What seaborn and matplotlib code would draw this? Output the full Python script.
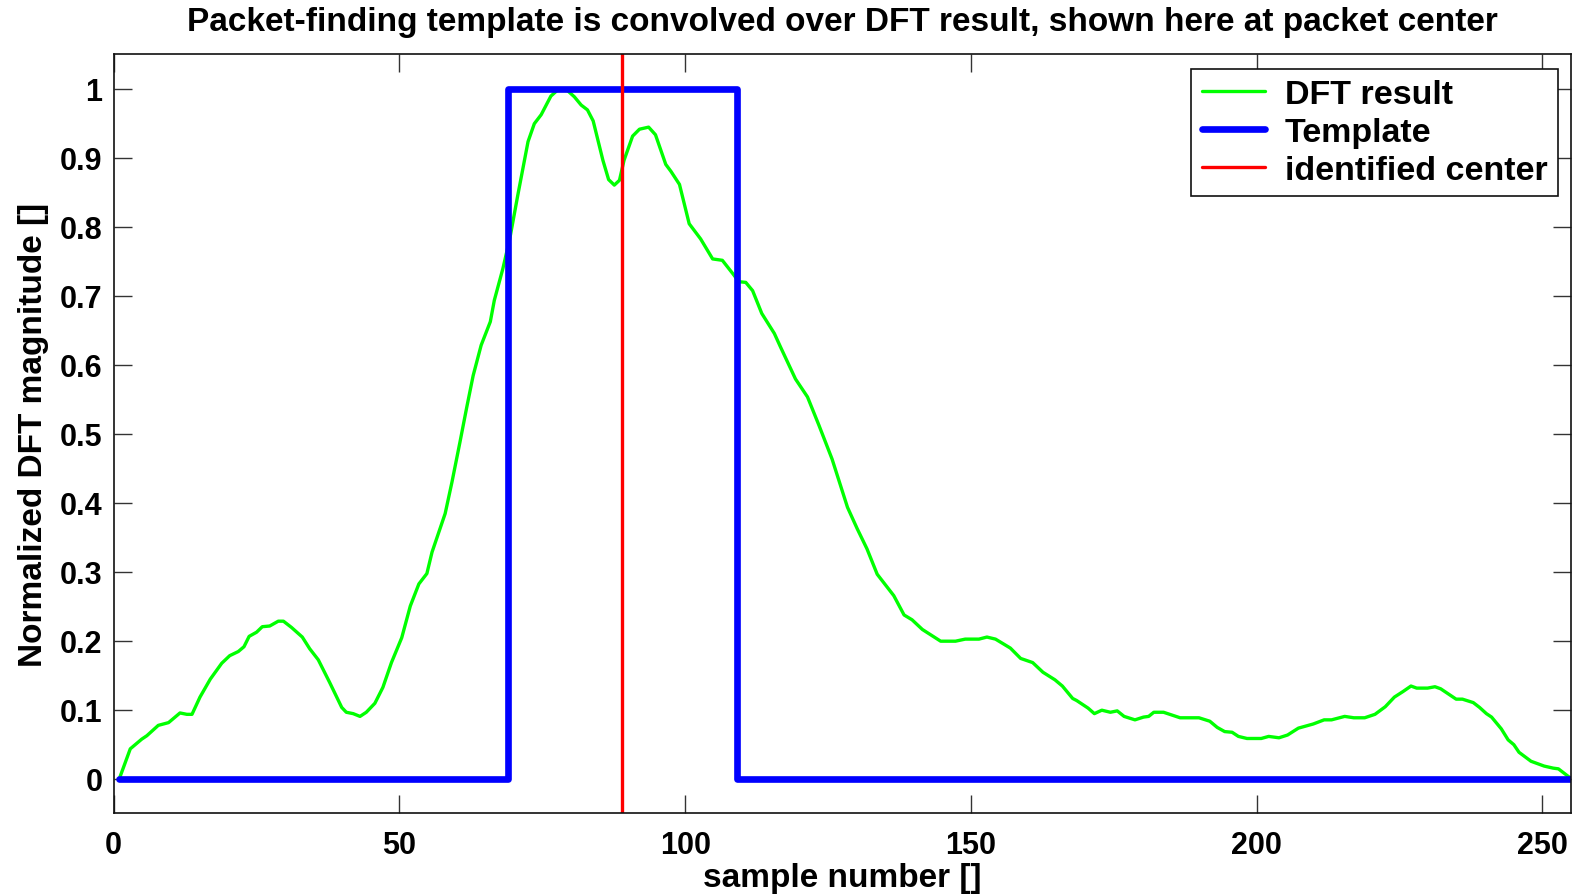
import numpy as np
import pandas as pd
import matplotlib
matplotlib.use("Agg")
import matplotlib.pyplot as plt
import seaborn as sns

# ---- data ----
dft_x = [1.0, 2.9, 4.9, 5.8, 7.8, 9.6, 11.6, 12.8, 13.7, 15.1, 16.9, 18.9, 20.3,
         21.8, 22.8, 23.7, 25.0, 26.0, 27.3, 28.8, 29.7, 31.1, 33.0, 34.3, 35.8,
         37.8, 39.9, 40.7, 41.9, 43.1, 44.2, 45.7, 47.1, 48.6, 50.4, 51.9, 53.4,
         54.8, 55.7, 58.0, 59.2, 60.6, 61.8, 62.9, 64.3, 65.9, 66.6, 68.1, 69.3,
         70.7, 72.5, 73.6, 74.8, 76.5, 77.7, 79.4, 80.6, 81.8, 82.9, 83.9, 85.6,
         86.6, 87.6, 88.5, 89.3, 90.8, 92.0, 93.6, 94.8, 96.6, 97.5, 99.0, 100.7,
         102.7, 104.8, 106.5, 108.3, 109.4, 110.6, 111.8, 113.4, 115.6, 116.7,
         119.3, 121.4, 123.4, 125.7, 128.4, 130.1, 131.8, 133.6, 136.5, 138.3,
         139.7, 141.5, 143.2, 144.7, 147.3, 149.0, 151.4, 152.8, 154.3, 156.9,
         158.7, 160.8, 162.6, 164.7, 166.0, 167.8, 168.5, 170.5, 171.6, 172.9,
         174.4, 175.6, 176.8, 178.7, 180.2, 181.1, 182.0, 183.7, 186.6, 189.9,
         191.8, 193.1, 194.4, 195.7, 196.8, 198.3, 200.8, 202.1, 203.9, 205.4,
         207.3, 209.9, 211.8, 213.1, 215.4, 217.0, 218.9, 220.7, 222.5, 224.1,
         225.6, 227.0, 228.0, 229.9, 231.2, 232.2, 234.9, 236.0, 237.9, 239.0,
         240.2, 241.1, 242.8, 244.0, 245.0, 245.9, 248.0, 250.3, 251.9, 252.8,
         255.0]
dft_y = [0.000, 0.043, 0.057, 0.062, 0.077, 0.081, 0.095, 0.093, 0.093, 0.118,
         0.144, 0.167, 0.178, 0.184, 0.191, 0.206, 0.212, 0.220, 0.221, 0.228,
         0.228, 0.219, 0.205, 0.188, 0.172, 0.139, 0.103, 0.096, 0.094, 0.090,
         0.096, 0.109, 0.132, 0.168, 0.204, 0.250, 0.282, 0.297, 0.328, 0.384,
         0.430, 0.488, 0.539, 0.584, 0.628, 0.662, 0.693, 0.739, 0.782, 0.845,
         0.923, 0.949, 0.962, 0.989, 0.998, 0.997, 0.988, 0.976, 0.969, 0.953,
         0.896, 0.868, 0.860, 0.867, 0.896, 0.931, 0.941, 0.944, 0.933, 0.890,
         0.880, 0.861, 0.804, 0.782, 0.753, 0.751, 0.732, 0.720, 0.719, 0.707,
         0.674, 0.645, 0.625, 0.579, 0.553, 0.512, 0.463, 0.393, 0.362, 0.333,
         0.296, 0.265, 0.237, 0.230, 0.216, 0.207, 0.199, 0.199, 0.202, 0.202,
         0.205, 0.202, 0.189, 0.174, 0.168, 0.154, 0.143, 0.134, 0.116, 0.113,
         0.102, 0.094, 0.099, 0.096, 0.098, 0.090, 0.085, 0.089, 0.090, 0.096,
         0.096, 0.088, 0.088, 0.083, 0.074, 0.068, 0.067, 0.061, 0.058, 0.058,
         0.061, 0.059, 0.063, 0.073, 0.079, 0.085, 0.085, 0.090, 0.088, 0.088,
         0.093, 0.104, 0.118, 0.126, 0.134, 0.131, 0.131, 0.133, 0.130, 0.115,
         0.115, 0.110, 0.103, 0.094, 0.089, 0.072, 0.056, 0.049, 0.038, 0.025,
         0.018, 0.015, 0.014, 0.000]

template_x = [1, 69, 69, 109, 109, 255]
template_y = [0, 0, 1, 1, 0, 0]

center_x = 89

x_ticks = [0, 50, 100, 150, 200, 250]
y_ticks = [0, 0.1, 0.2, 0.3, 0.4, 0.5, 0.6, 0.7, 0.8, 0.9, 1]
y_tick_labels = ["0", "0.1", "0.2", "0.3", "0.4", "0.5", "0.6", "0.7", "0.8", "0.9", "1"]

title = "Packet-finding template is convolved over DFT result, shown here at packet center"
x_label = "sample number []"
y_label = "Normalized DFT magnitude []"
series_labels = ["DFT result", "Template", "identified center"]

# ---- style ----
sns.set_style("ticks")
plt.rcParams['font.family'] = ['Liberation Sans', 'DejaVu Sans']
plt.rcParams['font.weight'] = 'bold'

W, H = 1577, 895
fig = plt.figure(figsize=(W / 100, H / 100), dpi=100)
L, R, T, B = 113.7, 1571, 55, 814
ax = fig.add_axes([L / W, 1 - B / H, (R - L) / W, (B - T) / H])

dft = pd.DataFrame({"x": dft_x, "y": dft_y})
tpl = pd.DataFrame({"x": template_x, "y": template_y})

sns.lineplot(data=dft, x="x", y="y", ax=ax, color="#00ff00", lw=2.4,
             estimator=None, sort=False, label=series_labels[0])
sns.lineplot(data=tpl, x="x", y="y", ax=ax, color="#0000ff", lw=4.8,
             estimator=None, sort=False, label=series_labels[1],
             solid_capstyle="round", solid_joinstyle="round")
ax.axvline(center_x, color="#ff0000", lw=2.4, label=series_labels[2])

ax.set_xlim(0, 255)
ax.set_ylim(-0.05, 1.05)
ax.set_xticks(x_ticks)
ax.set_xticklabels([str(v) for v in x_ticks])
ax.set_yticks(y_ticks)
ax.set_yticklabels(y_tick_labels)

fs_tick = 22
fs_lab = 24
ax.tick_params(axis="both", which="both", direction="in", length=13, width=1,
               color="#333333", top=True, right=True, labelsize=fs_tick,
               labelcolor="black")
ax.tick_params(axis="y", pad=8)
ax.tick_params(axis="x", pad=12)
for lab in ax.get_xticklabels() + ax.get_yticklabels():
    lab.set_fontweight("bold")
for sp in ax.spines.values():
    sp.set_visible(True)
    sp.set_color("#111111")
    sp.set_linewidth(1.2)

ax.set_xlabel(x_label, fontsize=fs_lab, fontweight="bold", labelpad=2,
              color="black")
ax.set_ylabel(y_label, fontsize=fs_lab, fontweight="bold", labelpad=8,
              color="black")
ax.set_title(title, fontsize=24, fontweight="bold", pad=17, color="black")

leg = ax.legend(loc="upper right", bbox_to_anchor=(1558 / W, 1 - 70 / H),
                bbox_transform=fig.transFigure, borderaxespad=0,
                fancybox=False, frameon=True, framealpha=1,
                edgecolor="#111111", handlelength=1.85,
                handletextpad=0.6, labelspacing=0.2, borderpad=0.3,
                prop={"weight": "bold", "size": 24.5})
leg.get_frame().set_linewidth(1.2)
for t in leg.get_texts():
    t.set_color("black")

fig.savefig("out.png", dpi=100)
